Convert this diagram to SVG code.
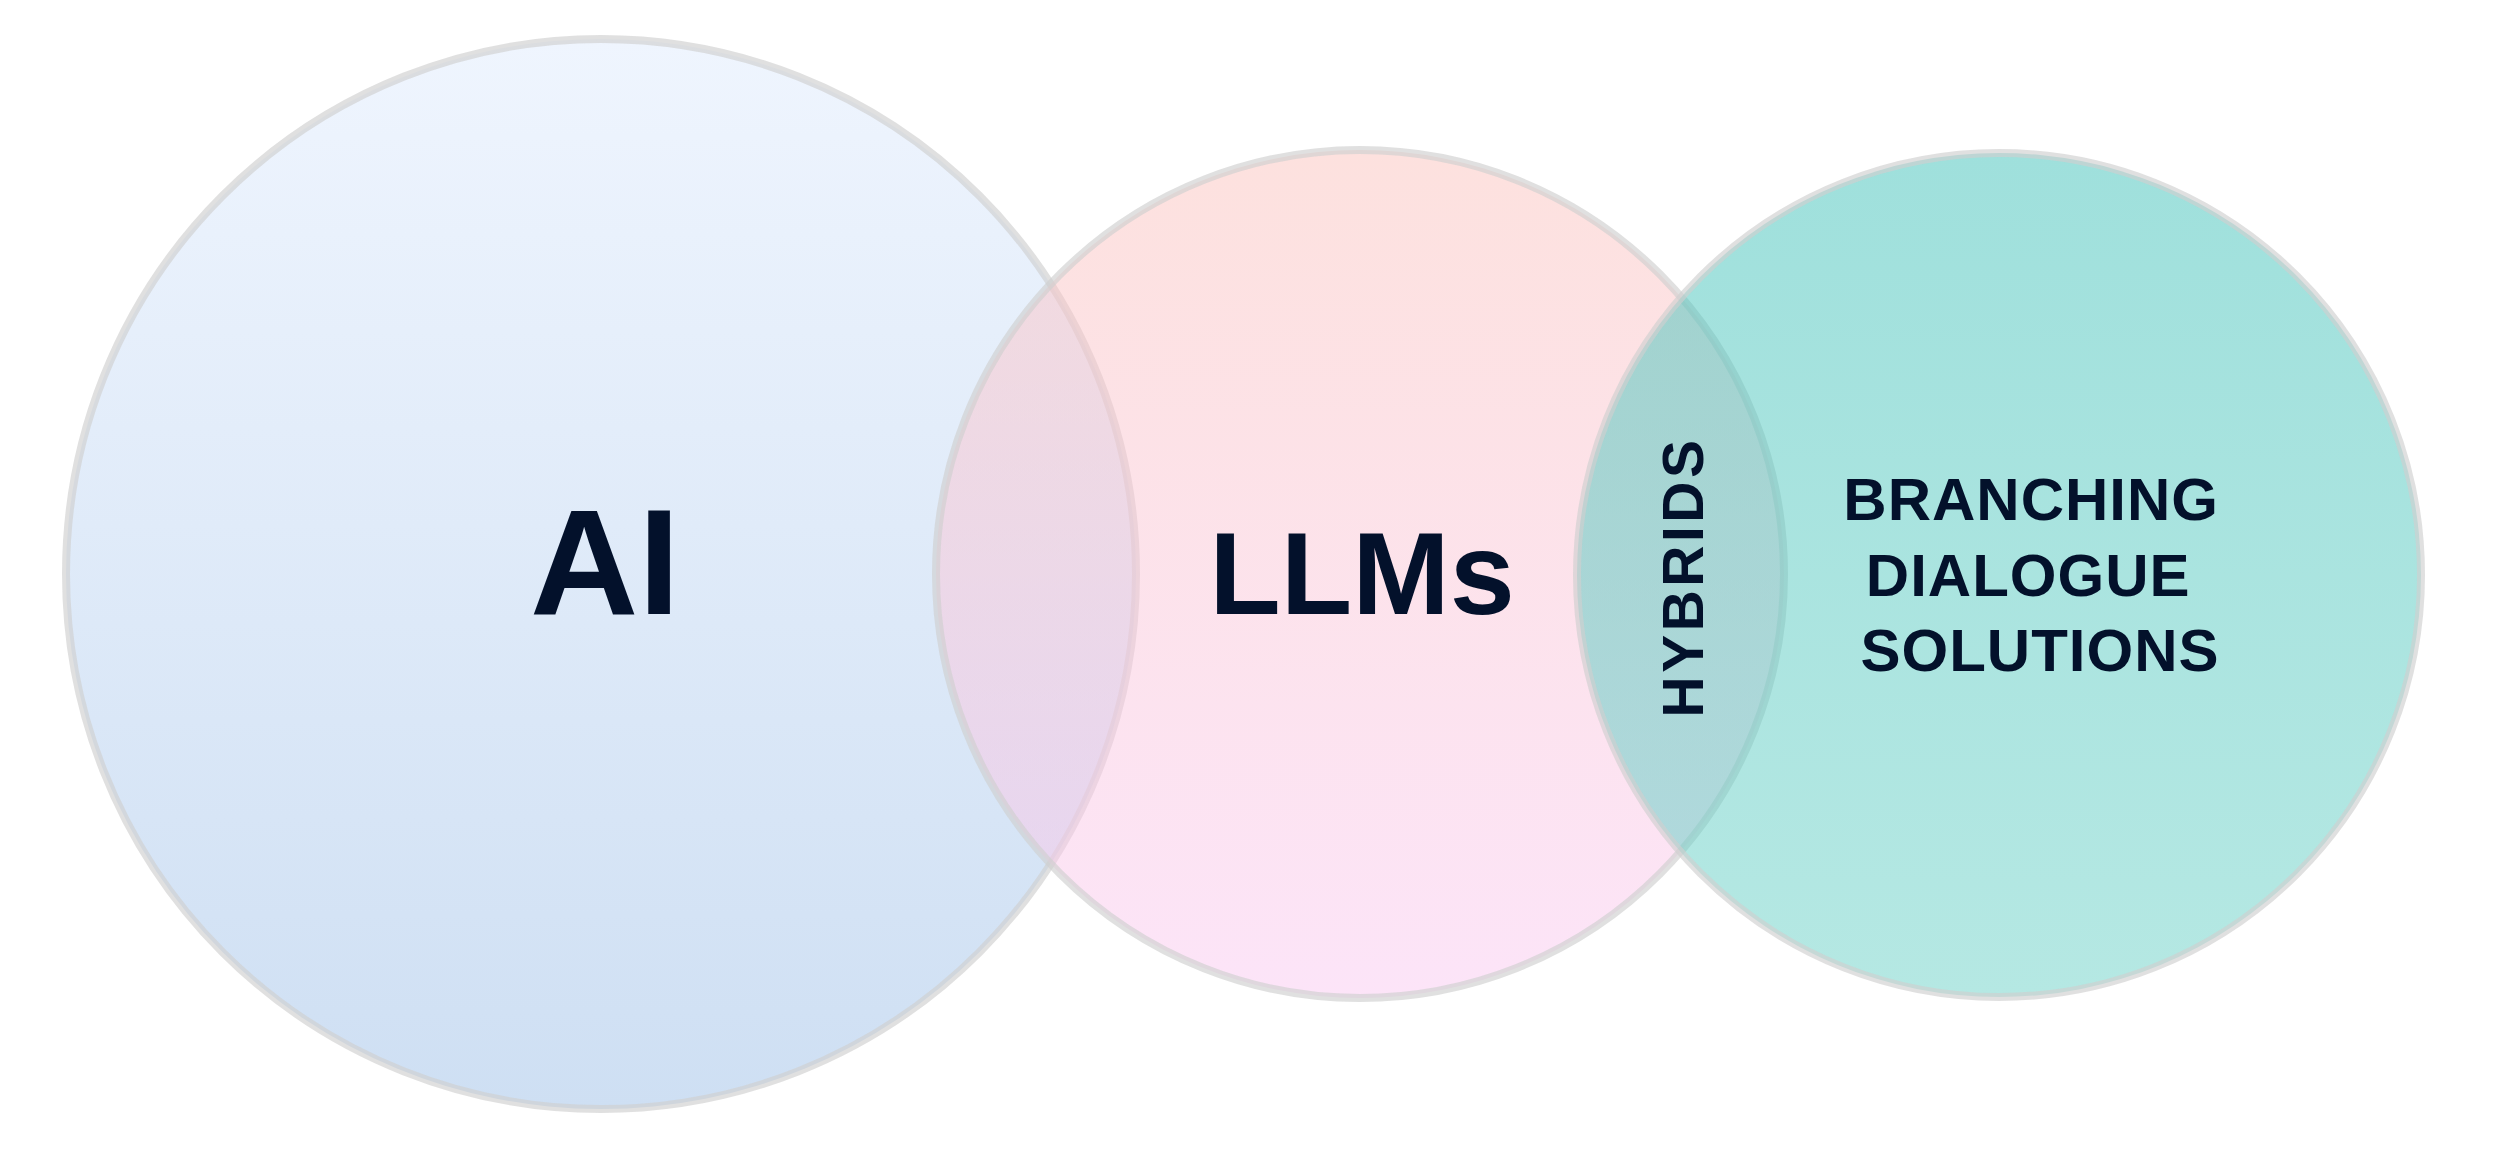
<svg xmlns="http://www.w3.org/2000/svg" width="2500" height="1152" viewBox="0 0 2500 1152">
  <defs>
    <linearGradient id="gAI" x1="0" y1="0" x2="0" y2="1">
      <stop offset="0" stop-color="#eff5fe"/>
      <stop offset="1" stop-color="#cedff3"/>
    </linearGradient>
    <linearGradient id="gLLM" x1="0" y1="0" x2="0" y2="1">
      <stop offset="0" stop-color="#fbc3bd" stop-opacity="0.5"/>
      <stop offset="1" stop-color="#f9c9f1" stop-opacity="0.5"/>
    </linearGradient>
    <linearGradient id="gBDS" x1="0" y1="0" x2="0" y2="1">
      <stop offset="0" stop-color="#3fc1b9" stop-opacity="0.5"/>
      <stop offset="1" stop-color="#6bd1c7" stop-opacity="0.5"/>
    </linearGradient>
  </defs>
  <style>
    .ring { stroke: #cfcfcf; stroke-opacity: 0.65; stroke-width: 8; }
    .lbl { font-family: "Liberation Sans", Arial, sans-serif; font-weight: 700; fill: #03112b; text-anchor: middle; }
  </style>
  <rect width="2500" height="1152" fill="#ffffff"/>
  <g id="node-ai">
    <circle class="ring" cx="601" cy="574" r="535" fill="url(#gAI)"/>
    <text class="lbl" x="605" y="614" font-size="150">AI</text>
  </g>
  <g id="node-llms">
    <circle class="ring" cx="1360" cy="574" r="424" fill="url(#gLLM)"/>
    <text class="lbl" x="1362" y="614" font-size="117">LLMs</text>
  </g>
  <g id="node-bds">
    <circle class="ring" cx="1999" cy="575" r="422" fill="url(#gBDS)"/>
    <text class="lbl" font-size="60" letter-spacing="1">
      <tspan x="2040" y="520">BRANCHING</tspan>
      <tspan x="2037" y="596">DIALOGUE</tspan>
      <tspan x="2040" y="671">SOLUTIONS</tspan>
    </text>
  </g>
  <g id="node-hybrids">
    <text class="lbl" font-size="57" letter-spacing="3.5" transform="translate(1703,577) rotate(-90)" x="0" y="0">HYBRIDS</text>
  </g>
  <g id="connectors"/>
</svg>
